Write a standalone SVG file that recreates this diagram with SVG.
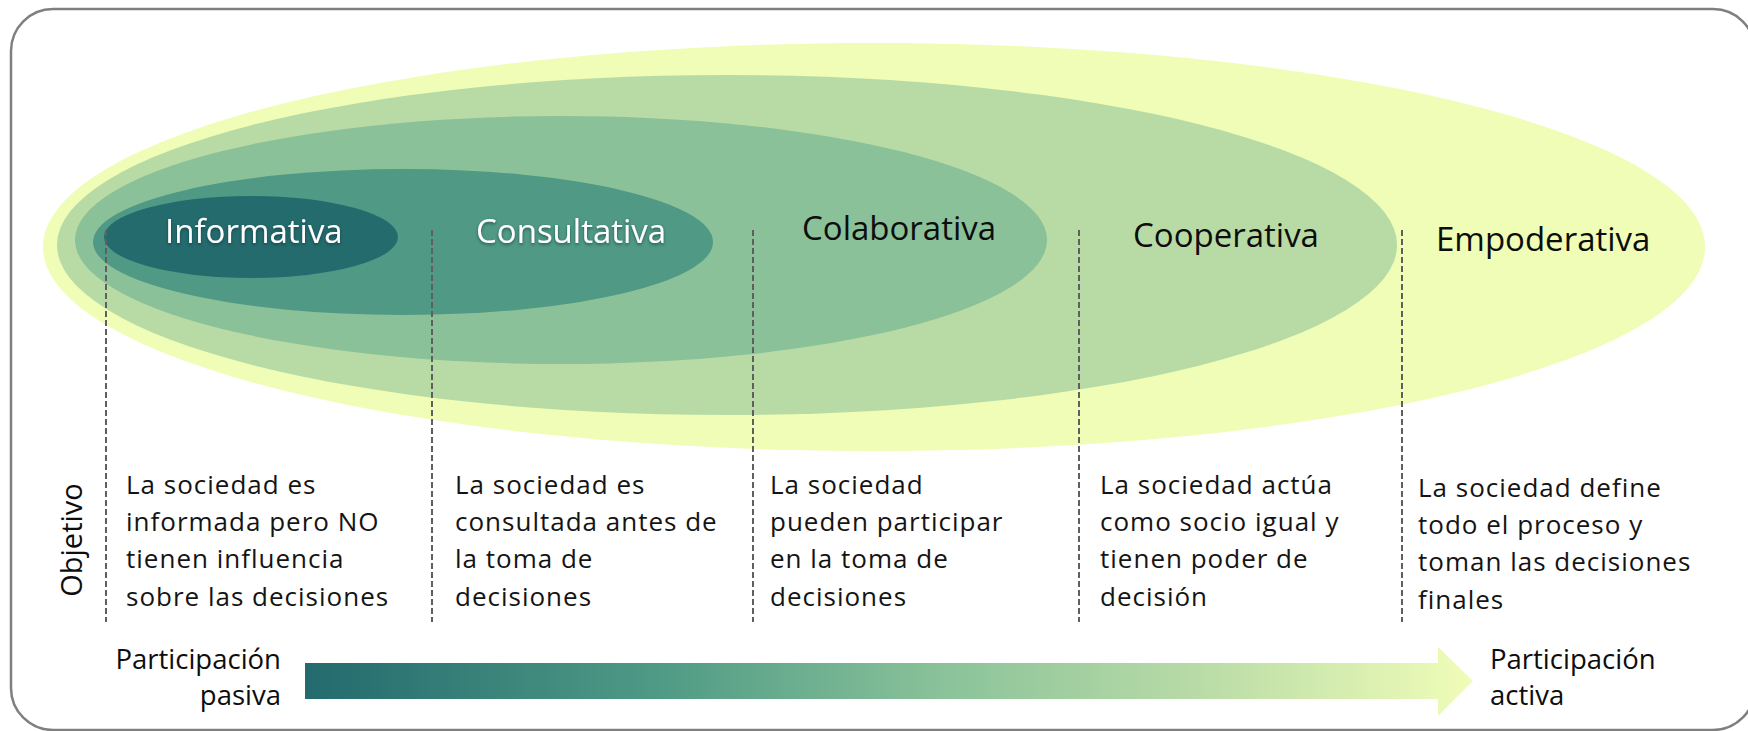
<svg xmlns="http://www.w3.org/2000/svg" width="1748" height="731" viewBox="0 0 1748 731">
<defs>
<style>
.lbl{font-family:"Open Sans","Noto Sans","DejaVu Sans",sans-serif;font-size:33px;}
.wl{fill:#ffffff;filter:url(#sh);}
.bl{fill:#0d0d0d;}
.p{font-family:"Open Sans","Noto Sans","DejaVu Sans",sans-serif;font-size:26px;letter-spacing:1px;fill:#141414;}
.ax{font-family:"Open Sans","Noto Sans","DejaVu Sans",sans-serif;font-size:27.5px;fill:#0d0d0d;}
.div{stroke:#5f5f5f;stroke-width:2;stroke-dasharray:6 3;fill:none;}
</style>
<filter id="sh" x="-10%" y="-30%" width="120%" height="160%">
<feDropShadow dx="0" dy="1.5" stdDeviation="1.5" flood-color="#0a2a2a" flood-opacity="0.6"/>
</filter>
<linearGradient id="ag" gradientUnits="userSpaceOnUse" x1="305" y1="0" x2="1473" y2="0">
<stop offset="0" stop-color="#236A6E"/>
<stop offset="0.3" stop-color="#4E9A85"/>
<stop offset="0.55" stop-color="#8BC39A"/>
<stop offset="0.77" stop-color="#BADCA7"/>
<stop offset="1" stop-color="#F0FDB8"/>
</linearGradient>
</defs>
<rect id="frame" x="11" y="9" width="1744" height="721" rx="42" ry="42" fill="#ffffff" stroke="#7f7f7f" stroke-width="2.5"/>
<g id="empoderativa">
<ellipse cx="874" cy="247" rx="831" ry="204" fill="#EFFDB6"/>
</g>
<g id="cooperativa">
<ellipse cx="727" cy="245" rx="670" ry="170" fill="#B8DBA5"/>
</g>
<g id="colaborativa">
<ellipse cx="561" cy="240" rx="486" ry="124" fill="#8AC199"/>
</g>
<g id="consultativa">
<ellipse cx="403" cy="242" rx="310" ry="73" fill="#4F9985"/>
</g>
<g id="informativa">
<ellipse cx="251" cy="237" rx="147" ry="41" fill="#246B6E"/>
</g>
<g id="labels">
<text class="lbl wl" x="165" y="243">Informativa</text>
<text class="lbl wl" x="476" y="243">Consultativa</text>
<text class="lbl bl" x="802" y="240">Colaborativa</text>
<text class="lbl bl" x="1133" y="247">Cooperativa</text>
<text class="lbl bl" x="1436" y="251">Empoderativa</text>
</g>
<g id="connectors">
<line class="div" x1="106" y1="230" x2="106" y2="622"/>
<line class="div" x1="432" y1="230" x2="432" y2="622"/>
<line class="div" x1="753" y1="230" x2="753" y2="622"/>
<line class="div" x1="1079" y1="230" x2="1079" y2="622"/>
<line class="div" x1="1402" y1="230" x2="1402" y2="622"/>
<path id="arrow" d="M305 663 H1438 V647 L1473 681 L1438 716 V699 H305 Z" fill="url(#ag)"/>
</g>
<g id="objetivo">
<text class="ax" style="font-size:29px" text-anchor="middle" transform="translate(82 540) rotate(-90)">Objetivo</text>
</g>
<g id="desc-informativa">
<text class="p" x="126" y="494">La sociedad es</text>
<text class="p" x="126" y="531">informada pero NO</text>
<text class="p" x="126" y="568">tienen influencia</text>
<text class="p" x="126" y="606">sobre las decisiones</text>
</g>
<g id="desc-consultativa">
<text class="p" x="455" y="494">La sociedad es</text>
<text class="p" x="455" y="531">consultada antes de</text>
<text class="p" x="455" y="568">la toma de</text>
<text class="p" x="455" y="606">decisiones</text>
</g>
<g id="desc-colaborativa">
<text class="p" x="770" y="494">La sociedad</text>
<text class="p" x="770" y="531">pueden participar</text>
<text class="p" x="770" y="568">en la toma de</text>
<text class="p" x="770" y="606">decisiones</text>
</g>
<g id="desc-cooperativa">
<text class="p" x="1100" y="494">La sociedad actúa</text>
<text class="p" x="1100" y="531">como socio igual y</text>
<text class="p" x="1100" y="568">tienen poder de</text>
<text class="p" x="1100" y="606">decisión</text>
</g>
<g id="desc-empoderativa">
<text class="p" x="1418" y="497">La sociedad define</text>
<text class="p" x="1418" y="534">todo el proceso y</text>
<text class="p" x="1418" y="571">toman las decisiones</text>
<text class="p" x="1418" y="609">finales</text>
</g>
<g id="pasiva">
<text class="ax" text-anchor="end" x="281" y="669">Participación</text>
<text class="ax" text-anchor="end" x="281" y="705">pasiva</text>
</g>
<g id="activa">
<text class="ax" x="1490" y="669">Participación</text>
<text class="ax" x="1490" y="705">activa</text>
</g>
</svg>
